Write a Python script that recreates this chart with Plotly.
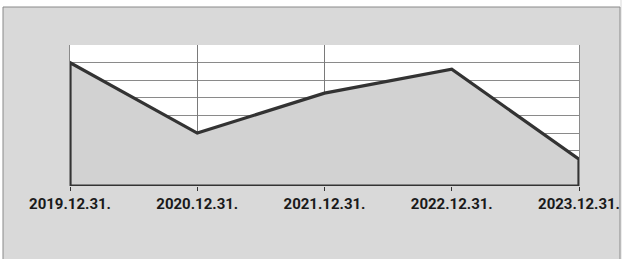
import plotly.graph_objects as go

categories = ["2019.12.31.", "2020.12.31.", "2021.12.31.", "2022.12.31.", "2023.12.31."]
values = [7.0, 3.0, 5.27, 6.63, 1.52]
grid_categories = [1, 2]

xs = list(range(len(categories)))
# closed outline of the area (like Excel area chart with border)
poly_x = [xs[0]] + xs + [xs[-1], xs[0]]
poly_y = [0] + values + [0, 0]

W, H = 622, 259
L, R, T, B = 70, 579, 45, 186
pw, ph = R - L, B - T

def px(x):
    return (x - L) / pw

def py(y):
    return (B - y) / ph

fig = go.Figure()
fig.add_trace(go.Scatter(x=[0], y=[0], xaxis="x2", mode="markers",
                         marker=dict(opacity=0), hoverinfo="skip", showlegend=False))
fig.add_trace(go.Scatter(
    x=poly_x, y=poly_y, mode="lines", fill="toself",
    fillcolor="#d2d2d2", line=dict(color="#333333", width=3.2),
    hoverinfo="skip", showlegend=False,
))

fig.update_layout(
    width=W, height=H,
    margin=dict(l=L, r=W - R, t=T, b=H - B, autoexpand=False),
    paper_bgcolor="#d9d9d9",
    plot_bgcolor="white",
    shapes=[
        dict(type="rect", xref="paper", yref="paper",
             x0=px(-5), x1=px(630), y0=py(7), y1=py(-5),
             fillcolor="white", line=dict(width=0), layer="below"),
        dict(type="rect", xref="paper", yref="paper",
             x0=px(-5), x1=px(3), y0=py(270), y1=py(-5),
             fillcolor="white", line=dict(width=0), layer="below"),
        dict(type="rect", xref="paper", yref="paper",
             x0=px(620), x1=px(630), y0=py(270), y1=py(-5),
             fillcolor="#ececec", line=dict(width=0), layer="below"),
        dict(type="rect", xref="paper", yref="paper",
             x0=px(3), x1=px(620), y0=py(7), y1=py(265),
             fillcolor="rgba(0,0,0,0)", line=dict(color="#8a8a8a", width=1),
             layer="below"),
    ],
    xaxis=dict(range=[0, 4], tickmode="array", tickvals=xs, ticktext=categories,
               showgrid=False, zeroline=False, showline=False, automargin=False,
               ticks="outside", ticklen=4, tickcolor="#333333",
               ticklabeloverflow="allow",
               tickfont=dict(family="Roboto, sans-serif",
                             size=15, color="#1a1a1a", weight="bold"),
               fixedrange=True),
    xaxis2=dict(range=[0, 4], overlaying="x", tickmode="array", tickvals=grid_categories,
                showticklabels=False, showgrid=True, gridcolor="#7a7a7a", gridwidth=1,
                zeroline=False, ticks="", side="top", layer="below traces"),
    yaxis=dict(range=[0, 8], dtick=1, showticklabels=False, showgrid=True,
               gridcolor="#8a8a8a", gridwidth=1, zeroline=False, automargin=False,
               showline=True, mirror=True, linecolor="#8a8a8a", linewidth=1,
               ticks="", fixedrange=True),
)

fig.write_html("out.html", config={"displayModeBar": False},
               post_script="document.body.style.margin='0';document.body.style.overflow='hidden';")
